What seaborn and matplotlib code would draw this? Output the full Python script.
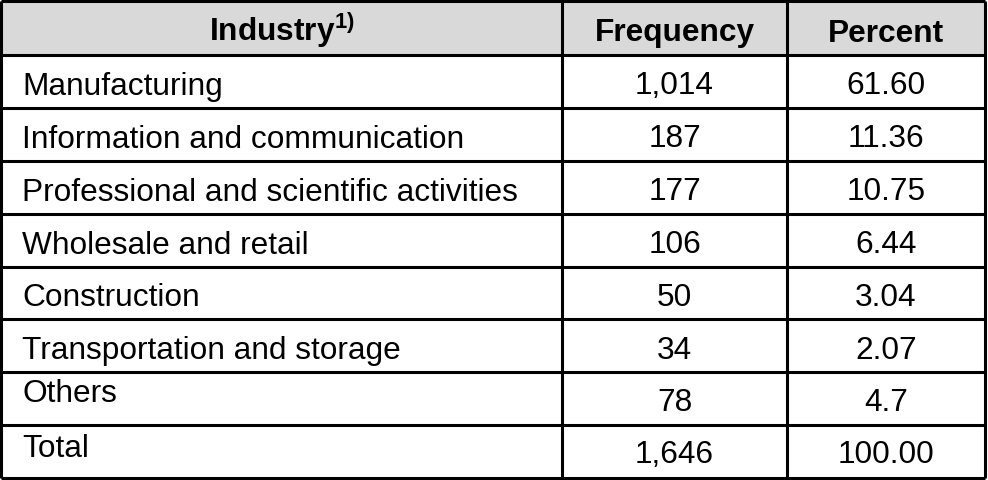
import matplotlib
matplotlib.use("Agg")
import matplotlib.pyplot as plt
import seaborn as sns

# table content
industries = [
    "Manufacturing",
    "Information and communication",
    "Professional and scientific activities",
    "Wholesale and retail",
    "Construction",
    "Transportation and storage",
    "Others",
    "Total",
]
frequency = ["1,014", "187", "177", "106", "50", "34", "78", "1,646"]
percent = ["61.60", "11.36", "10.75", "6.44", "3.04", "2.07", "4.7", "100.00"]
headers = [r"$\mathbf{Industry}^{\mathbf{1)}}$", "Frequency", "Percent"]

sns.set_theme(style="white")
plt.rcParams['font.family'] = ['Liberation Sans', 'DejaVu Sans']
plt.rcParams['mathtext.fontset'] = 'custom'
plt.rcParams['mathtext.rm'] = 'Liberation Sans'
plt.rcParams['mathtext.bf'] = 'Liberation Sans:bold'

W, H = 988, 481
fig = plt.figure(figsize=(W / 100, H / 100), dpi=100)
ax = fig.add_axes([0, 0, 1, 1])
ax.set_xlim(0, W)
ax.set_ylim(H, 0)
ax.axis("off")

# geometry (pixels)
left, right = 1, 985
col_x = [left, 562, 787, right]
top = 2
head_bot = 56
row_h = (479 - head_bot) / len(industries)
row_y = [head_bot + i * row_h for i in range(len(industries) + 1)]

fs = 22.8
lw = 2.2

# header band
ax.axhspan(top, head_bot, xmin=left / W, xmax=right / W, color="#d9d9d9", lw=0, zorder=0)

# header text
head_c = (top + head_bot) / 2
for j, h in enumerate(headers):
    xc = (col_x[j] + col_x[j + 1]) / 2
    ax.text(xc, head_c + 12.5, h, ha="center", va="baseline", fontsize=fs,
            fontweight="bold", color="black")

# body text (last two rows have the label set higher in the cell)
label_shift = {"Others": 2.5, "Total": 4}
num_shift = {"Others": 11.5, "Total": 10}
for i, name in enumerate(industries):
    yc = (row_y[i] + row_y[i + 1]) / 2
    ax.text(22, yc + label_shift.get(name, 12.5), name, ha="left", va="baseline",
            fontsize=fs, color="black")
    yn = yc + num_shift.get(name, 12)
    ax.text((col_x[1] + col_x[2]) / 2, yn, frequency[i], ha="center", va="baseline",
            fontsize=fs, color="black")
    ax.text((col_x[2] + col_x[3]) / 2, yn, percent[i], ha="center", va="baseline",
            fontsize=fs, color="black")

# grid lines
ax.hlines([top, head_bot] + row_y[1:], left, right, colors="black", lw=lw, zorder=3)
ax.vlines(col_x, top, row_y[-1], colors="black", lw=lw, zorder=3)

fig.savefig("out.png", dpi=100)
